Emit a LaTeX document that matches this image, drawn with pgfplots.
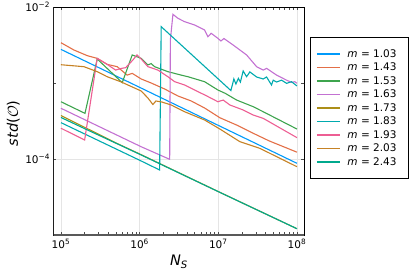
\documentclass[border=0pt]{standalone}
\usepackage{fontspec}
\setmainfont{DejaVu Sans}
\usepackage{pgfplots}
\pgfplotsset{compat=1.18}
\definecolor{c1}{HTML}{009AFA}
\definecolor{c2}{HTML}{E36F47}
\definecolor{c3}{HTML}{3EA44E}
\definecolor{c4}{HTML}{C371D2}
\definecolor{c5}{HTML}{AC8E18}
\definecolor{c6}{HTML}{00AAAE}
\definecolor{c7}{HTML}{ED5E93}
\definecolor{c8}{HTML}{C68225}
\definecolor{c9}{HTML}{00A98D}
\newcommand{\ent}[1]{\textit{m} = #1\hspace*{4pt}}
\begin{document}
\begin{tikzpicture}
\begin{axis}[
  scale only axis, width=250.8pt, height=228pt,
  xmode=log, ymode=log,
  xmin=8.04e4, xmax=1.24e8, ymin=1e-5, ymax=1e-2,
  xtick={1e5,1e6,1e7,1e8},
  xticklabels={10\textsuperscript{5},10\textsuperscript{6},10\textsuperscript{7},10\textsuperscript{8}},
  ytick={1e-4,1e-2},
  yticklabels={10\textsuperscript{−4},10\textsuperscript{−2}},
  extra y ticks={1e-3}, extra y tick labels={}, extra y tick style={grid=none},
  minor xtick={}, minor ytick={},
  grid=major, major grid style={black!10, line width=0.5pt},
  tick align=inside, major tick length=3pt,
  tick style={black!70, line width=0.6pt},
  axis line style={black, line width=0.7pt},
  ticklabel style={font=\fontsize{10.5}{12}\selectfont},
  xticklabel style={yshift=-1pt},
  xlabel={\textit{N}\textsubscript{\textit{S}}},
  ylabel={\textit{std}(\(\mathcal{O}\))},
  x label style={at={(axis description cs:0.5,-0.117)}, anchor=center, font=\fontsize{14.5}{16}\selectfont},
  y label style={at={(axis description cs:-0.16,0.49)}, anchor=center, font=\fontsize{14.5}{16}\selectfont},
  legend style={at={(axis description cs:1.0227,0.868)}, anchor=north west, draw=black, line width=0.6pt,
    font=\fontsize{10.5}{12}\selectfont, inner xsep=6pt, inner ysep=10pt, row sep=0.2pt,
    legend cell align=left, /tikz/every odd column/.append style={column sep=5pt}},
  legend image code/.code={\draw[#1, line width=1.2pt] (0pt,0pt) -- (23pt,0pt);},
  every axis plot/.append style={line width=1.1pt},
]
\addplot[c1] coordinates {(1e5,2.77e-3) (1e6,8.77e-4) (1e7,2.77e-4) (1e8,8.78e-5)};
\addlegendentry{\ent{1.03}}
\addplot[c2] coordinates {(1e5,3.39e-3) (1.46e5,2.72e-3) (2.16e5,2.29e-3) (2.89e5,2.11e-3) (3.87e5,1.76e-3) (5.19e5,1.64e-3) (6.95e5,1.27e-3) (8.05e5,1.34e-3) (1.047e6,1.13e-3) (1.403e6,1.00e-3) (2.08e6,8.34e-4) (3.07e6,6.75e-4) (4.53e6,5.80e-4) (6.70e6,4.69e-4) (1.048e7,3.49e-4) (1.709e7,2.80e-4) (2.78e7,2.18e-4) (4.44e7,1.73e-4) (1e8,1.23e-4)};
\addlegendentry{\ent{1.43}}
\addplot[c3] coordinates {(1e5,5.67e-4) (2.02e5,3.99e-4) (2.89e5,2.07e-3) (6.01e5,1.01e-3) (8.05e5,2.34e-3) (1.047e6,2.11e-3) (1.274e6,1.73e-3) (1.40e6,1.80e-3) (1.552e6,1.64e-3) (2.29e6,1.41e-3) (3.38e6,1.27e-3) (4.11e6,1.21e-3) (6.70e6,1.04e-3) (9.89e6,8.09e-4) (1.224e7,7.32e-4) (1.709e7,5.97e-4) (2.78e7,4.88e-4) (3.72e7,4.19e-4) (1e8,2.48e-4)};
\addlegendentry{\ent{1.53}}
\addplot[c4] coordinates {(1e5,4.65e-4) (1.047e6,1.45e-4) (2.41e6,9.91e-5) (2.46e6,3.68e-3) (2.65e6,8.01e-3) (3.07e6,7.10e-3) (3.73e6,6.41e-3) (5.00e6,5.80e-3) (6.70e6,4.98e-3) (7.38e6,4.07e-3) (8.13e6,4.51e-3) (9.89e6,3.87e-3) (1.08e7,3.57e-3) (1.18e7,3.85e-3) (1.546e7,3.16e-3) (2.29e7,2.34e-3) (3.07e7,1.64e-3) (3.72e7,1.48e-3) (4.11e7,1.56e-3) (5.51e7,1.27e-3) (7.38e7,1.09e-3) (8.54e7,1.02e-3) (9.40e7,1.04e-3) (1e8,9.91e-4)};
\addlegendentry{\ent{1.63}}
\addplot[c5] coordinates {(1e5,3.73e-4) (5.19e5,1.60e-4) (1.047e6,1.14e-4) (1e7,3.73e-5) (1e8,1.21e-5)};
\addlegendentry{\ent{1.73}}
\addplot[c6] coordinates {(1e5,3.01e-4) (1.047e6,9.42e-5) (1.796e6,7.17e-5) (1.881e6,5.51e-3) (1.446e7,7.96e-4) (1.578e7,1.13e-3) (1.675e7,9.70e-4) (1.80e7,1.15e-3) (1.91e7,1.03e-3) (2.07e7,1.44e-3) (2.29e7,1.21e-3) (2.52e7,1.40e-3) (3.07e7,1.20e-3) (3.72e7,1.13e-3) (4.11e7,1.20e-3) (4.75e7,9.42e-4) (4.99e7,1.09e-3) (5.51e7,1.03e-3) (6.37e7,1.09e-3) (7.38e7,9.91e-4) (8.54e7,1.04e-3) (1e8,9.14e-4)};
\addlegendentry{\ent{1.83}}
\addplot[c7] coordinates {(1e5,2.54e-4) (2.0e5,1.78e-4) (2.89e5,2.11e-3) (3.87e5,1.76e-3) (4.95e5,1.48e-3) (5.91e5,1.56e-3) (6.64e5,1.59e-3) (8.22e5,2.01e-3) (9.25e5,2.34e-3) (1.047e6,2.07e-3) (1.274e6,1.64e-3) (1.709e6,1.48e-3) (2.29e6,1.21e-3) (2.79e6,1.04e-3) (3.73e6,9.42e-4) (5.51e6,7.69e-4) (6.76e6,6.95e-4) (9.89e6,5.67e-4) (1.154e7,5.97e-4) (1.403e7,5.14e-4) (2.07e7,4.42e-4) (2.78e7,3.79e-4) (3.72e7,3.43e-4) (1e8,1.91e-4)};
\addlegendentry{\ent{1.93}}
\addplot[c8] coordinates {(1e5,1.74e-3) (1.96e5,1.64e-3) (2.89e5,1.41e-3) (3.87e5,1.21e-3) (5.74e5,1.04e-3) (1.047e6,7.85e-4) (1.274e6,6.35e-4) (1.475e6,5.21e-4) (1.61e6,5.80e-4) (1.92e6,5.62e-4) (2.52e6,5.14e-4) (3.73e6,4.19e-4) (6.70e6,3.26e-4) (1.048e7,2.48e-4) (1.881e7,1.69e-4) (3.38e7,1.38e-4) (1e8,7.92e-5)};
\addlegendentry{\ent{2.03}}
\addplot[c9] coordinates {(1e5,3.52e-4) (2e5,2.51e-4) (1.047e6,1.13e-4) (1e7,3.72e-5) (1e8,1.21e-5)};
\addlegendentry{\ent{2.43}}
\draw[black!65, line width=1.4pt] (rel axis cs:0,1) -- (rel axis cs:0,0) -- (rel axis cs:1,0);
\end{axis}
\pgfresetboundingbox
\path (-53.5pt,-42pt) rectangle (361.5pt,235pt);
\end{tikzpicture}
\end{document}
